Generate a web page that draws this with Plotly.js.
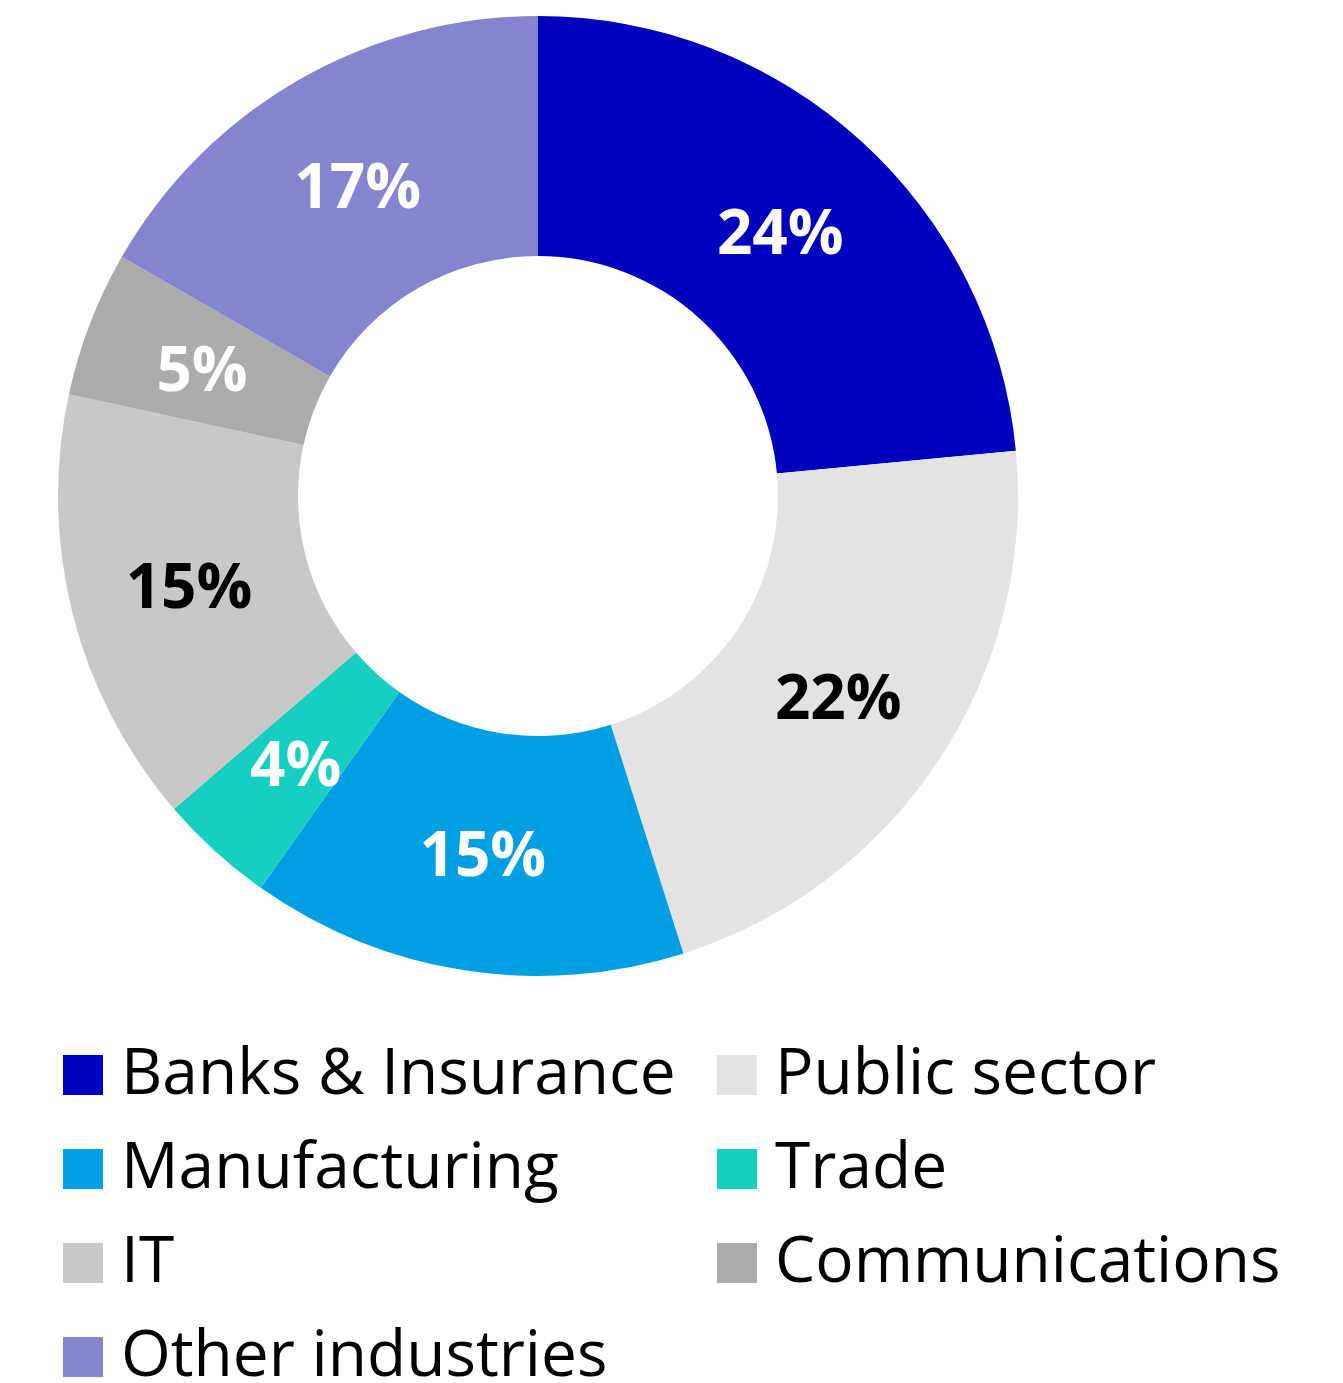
<!DOCTYPE html>
<html>
<head>
<meta charset="utf-8">
<script src="https://cdn.plot.ly/plotly-3.0.1.min.js"></script>
<style>html,body{margin:0;padding:0;background:#fff;}#chart{width:1343px;height:1383px;}</style>
</head>
<body>
<div id="chart"></div>
<script>
// ---- data ----
const categories = ["Banks & Insurance", "Public sector", "Manufacturing", "Trade", "IT", "Communications", "Other industries"];
const shares = [23.5, 21.6, 14.7, 3.9, 14.7, 4.9, 16.7];
const sliceColors = ["#0000BE", "#E3E3E3", "#009FE3", "#16CFC0", "#C8C8C8", "#ABABAB", "#8585CF"];
const labelColors = ["#FFFFFF", "#000000", "#FFFFFF", "#FFFFFF", "#000000", "#FFFFFF", "#FFFFFF"];

// ---- layout helpers ----
const W = 1343, H = 1383;
const px = x => x / W;
const py = y => 1 - y / H;

const cx = 538, cy = 496, R = 480, HOLE = 0.5;
const labelSize = 62;
const LABEL = "%{percent:.0%}";
const total = shares.reduce((a, b) => a + b, 0);

// Plotly centres horizontal inside text of thin slices near the rim; for those
// slices the label is drawn by a transparent overlay pie sized so that its label
// lands mid-ring, like the others.
const halfAngle = v => Math.PI * v / total;
const isThin = v => Math.sin(halfAngle(v)) / (1 + Math.sin(halfAngle(v))) < (1 - HOLE) / 2;

const domainFor = r => ({ x: [px(cx - r), px(cx + r)], y: [py(cy + r), py(cy - r)] });

const base = {
  type: "pie",
  labels: categories,
  values: shares,
  sort: false,
  direction: "clockwise",
  rotation: 0,
  textposition: "inside",
  insidetextorientation: "horizontal",
  textfont: { family: "Open Sans", size: labelSize, color: labelColors, weight: "bold" },
  hoverinfo: "skip",
  showlegend: false
};

const traces = [Object.assign({}, base, {
  hole: HOLE,
  marker: { colors: sliceColors, line: { width: 0 } },
  texttemplate: shares.map(v => (isThin(v) ? "" : LABEL)),
  domain: domainFor(R)
})];

const rMid = R * (1 + HOLE) / 2;
shares.forEach((v, i) => {
  if (!isThin(v)) return;
  traces.push(Object.assign({}, base, {
    hole: 0,
    marker: { colors: shares.map(() => "rgba(0,0,0,0)"), line: { width: 0 } },
    texttemplate: shares.map((_, j) => (j === i ? LABEL : "")),
    domain: domainFor(rMid * (1 + Math.sin(halfAngle(v))))
  }));
});

// custom legend: two columns, row-major
const shapes = [], annotations = [];
const colX = [63, 717];
const rowBottom = [1095, 1189, 1283, 1377];
categories.forEach((c, i) => {
  const col = i % 2, row = Math.floor(i / 2);
  const x0 = colX[col], yb = rowBottom[row];
  shapes.push({
    type: "rect", xref: "paper", yref: "paper",
    x0: px(x0), x1: px(x0 + 40), y0: py(yb), y1: py(yb - 40),
    fillcolor: sliceColors[i], line: { width: 0 }
  });
  const ann = {
    xref: "paper", yref: "paper",
    x: px(x0 + 56), y: py(yb - 26),
    xanchor: "left", yanchor: "middle",
    text: c, showarrow: false,
    font: { family: "Open Sans", size: 64, color: "#000000" }
  };
  if (row === rowBottom.length - 1) ann.height = 62; // keep the last row's box inside the page
  annotations.push(ann);
});

const layout = {
  width: W, height: H,
  margin: { l: 0, r: 0, t: 0, b: 0 },
  paper_bgcolor: "#FFFFFF",
  plot_bgcolor: "#FFFFFF",
  showlegend: false,
  uniformtext: { minsize: labelSize, mode: "show" },
  shapes: shapes,
  annotations: annotations
};

Plotly.newPlot("chart", traces, layout, { staticPlot: true, displayModeBar: false });
</script>
</body>
</html>
